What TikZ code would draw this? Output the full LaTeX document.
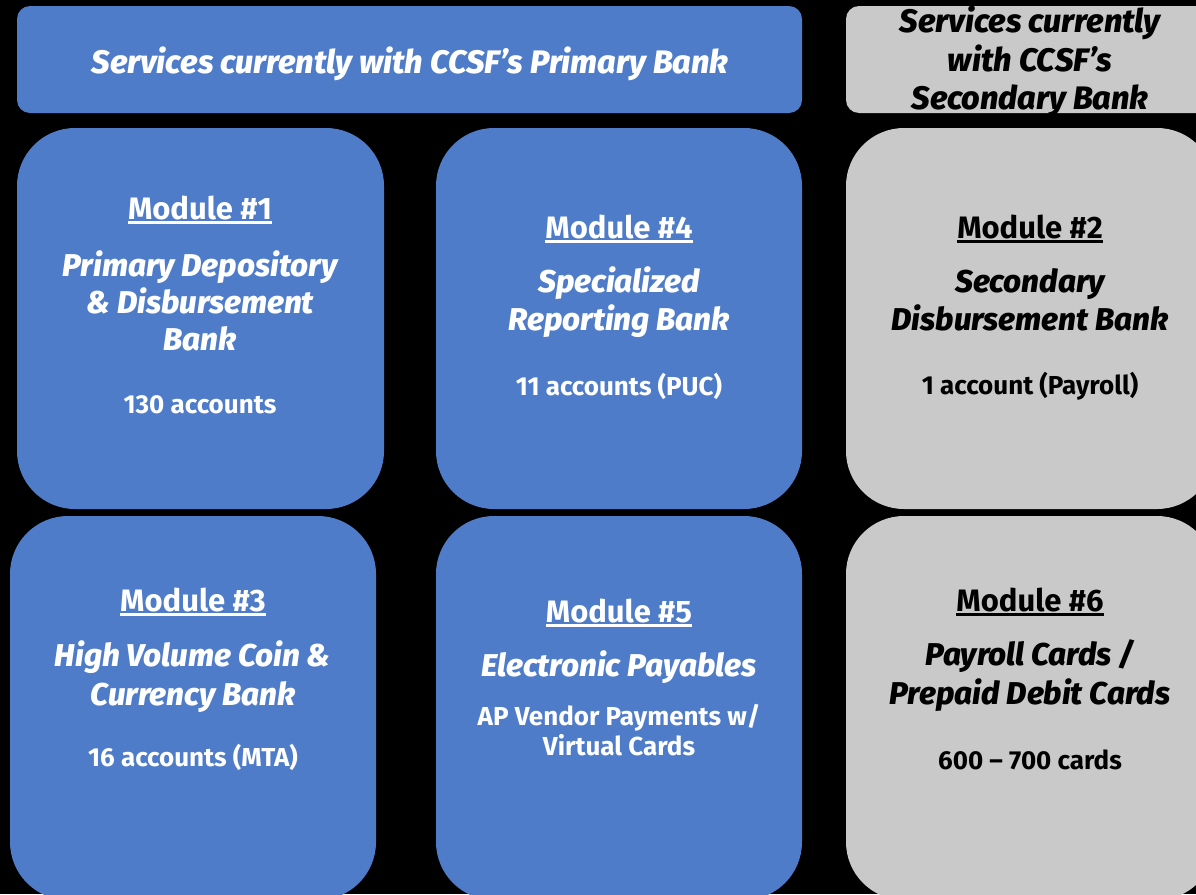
\documentclass[tikz,border=0pt]{standalone}
\usepackage{fontspec}
\setmainfont{Fira Sans}
% heavier italic for the service titles, with a safe fallback
\IfFontExistsTF{Fira Sans ExtraBold Italic}
  {\newfontfamily\titlefamily{Fira Sans ExtraBold Italic}\newcommand\titlefont{\titlefamily}}
  {\newcommand\titlefont{\bfseries\itshape}}
\definecolor{bankblue}{RGB}{79,124,200}
\definecolor{bankgray}{RGB}{201,201,201}
\begin{document}
\begin{tikzpicture}[x=1pt,y=-1pt,
  panel/.style={draw=none, inner sep=0pt, rounded corners=58pt},
  banner/.style={draw=none, inner sep=0pt, rounded corners=13pt},
  head/.style={font=\fontsize{31}{36}\selectfont\bfseries, inner sep=0pt, anchor=base},
  ttl/.style={font=\fontsize{31.5}{36}\selectfont\titlefont, inner sep=0pt, anchor=base},
  btl/.style={font=\fontsize{32.5}{36}\selectfont\titlefont, inner sep=0pt, anchor=base},
  body/.style={font=\fontsize{26}{31}\selectfont\bfseries, inner sep=0pt, anchor=base},
  uline/.style={line width=2.6pt}]
% page: black background, everything clipped to it
\path[use as bounding box, fill=black] (0,0) rectangle (1196,894);
\clip (0,0) rectangle (1196,894);

% header banners
\node[banner, fill=bankblue, minimum width=785pt, minimum height=107pt] (pbanner) at (409.5,59.5) {};
\node[banner, fill=bankgray, minimum width=369pt, minimum height=107pt] (sbanner) at (1030.5,59.5) {};

% module panels
\node[panel, fill=bankblue, minimum width=367pt, minimum height=381pt] (m1box) at (200.5,318.5) {};
\node[panel, fill=bankblue, minimum width=366pt, minimum height=381pt] (m4box) at (619,318.5) {};
\node[panel, fill=bankgray, minimum width=369pt, minimum height=381pt] (m2box) at (1030.5,318.5) {};
\node[panel, fill=bankblue, minimum width=366pt, minimum height=384pt] (m3box) at (193,708) {};
\node[panel, fill=bankblue, minimum width=366pt, minimum height=384pt] (m5box) at (619,708) {};
\node[panel, fill=bankgray, minimum width=369pt, minimum height=384pt] (m6box) at (1030.5,708) {};

% banner texts
\node[btl, text=white] (ptxt) at (410,73) {Services currently with CCSF’s Primary Bank};
\node[btl, text=black] (stxt1) at (1030,32) {Services currently};
\node[btl, text=black] (stxt2) at (1030,71) {with CCSF’s};
\node[btl, text=black] (stxt3) at (1030,109) {Secondary Bank};

% Module 1
\begin{scope}[text=white]
\node[head] (m1h) at (200,219) {Module \#1};
\node[ttl] (m1t1) at (200,276) {Primary Depository};
\node[ttl] (m1t2) at (200,313) {\& Disbursement};
\node[ttl] (m1t3) at (200,350) {Bank};
\node[body] (m1b) at (200,413) {130 accounts};
\end{scope}
\draw[uline, white] ([yshift=-3.5pt]m1h.base west) -- ([yshift=-3.5pt]m1h.base east);

% Module 4
\begin{scope}[text=white]
\node[head] (m4h) at (619,238) {Module \#4};
\node[ttl] (m4t1) at (619,292) {Specialized};
\node[ttl] (m4t2) at (619,330) {Reporting Bank};
\node[body] (m4b) at (619,395) {11 accounts (PUC)};
\end{scope}
\draw[uline, white] ([yshift=-3.5pt]m4h.base west) -- ([yshift=-3.5pt]m4h.base east);

% Module 2
\begin{scope}[text=black]
\node[head] (m2h) at (1030,238) {Module \#2};
\node[ttl] (m2t1) at (1030,292) {Secondary};
\node[ttl] (m2t2) at (1030,330) {Disbursement Bank};
\node[body] (m2b) at (1030,394) {1 account (Payroll)};
\end{scope}
\draw[uline, black] ([yshift=-3.5pt]m2h.base west) -- ([yshift=-3.5pt]m2h.base east);

% Module 3
\begin{scope}[text=white]
\node[head] (m3h) at (193,611) {Module \#3};
\node[ttl] (m3t1) at (193,666) {High Volume Coin \&};
\node[ttl] (m3t2) at (193,705) {Currency Bank};
\node[body] (m3b) at (193,766) {16 accounts (MTA)};
\end{scope}
\draw[uline, white] ([yshift=-3.5pt]m3h.base west) -- ([yshift=-3.5pt]m3h.base east);

% Module 5
\begin{scope}[text=white]
\node[head] (m5h) at (619,622) {Module \#5};
\node[ttl] (m5t1) at (619,676) {Electronic Payables};
\node[body] (m5b1) at (619,725) {AP Vendor Payments w/};
\node[body] (m5b2) at (619,755) {Virtual Cards};
\end{scope}
\draw[uline, white] ([yshift=-3.5pt]m5h.base west) -- ([yshift=-3.5pt]m5h.base east);

% Module 6
\begin{scope}[text=black]
\node[head] (m6h) at (1030,611) {Module \#6};
\node[ttl] (m6t1) at (1030,665) {Payroll Cards /};
\node[ttl] (m6t2) at (1030,704) {Prepaid Debit Cards};
\node[body] (m6b) at (1030,769) {600 – 700 cards};
\end{scope}
\draw[uline, black] ([yshift=-3.5pt]m6h.base west) -- ([yshift=-3.5pt]m6h.base east);
\end{tikzpicture}
\end{document}
